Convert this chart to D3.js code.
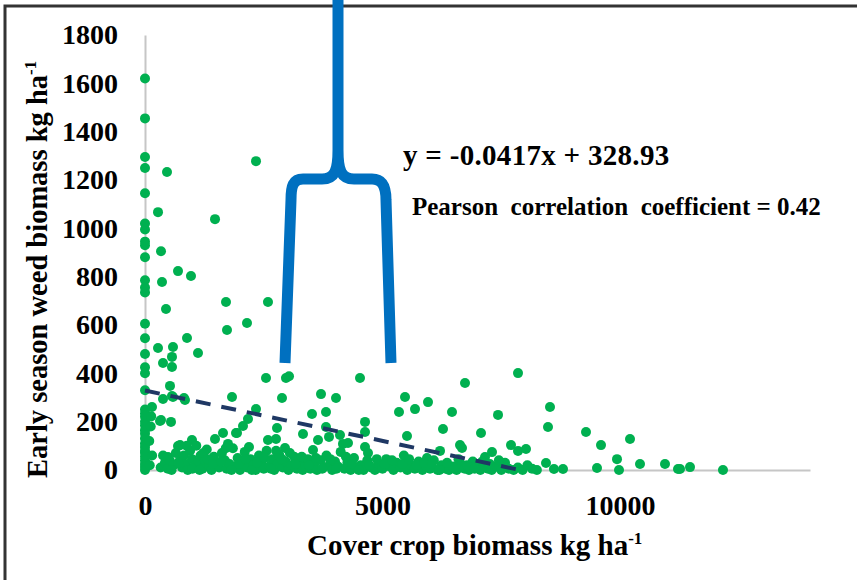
<!DOCTYPE html>
<html>
<head>
<meta charset="utf-8">
<script src="https://cdn.jsdelivr.net/npm/d3@7"></script>
<style>
  body { margin: 0; background: #fff; }
  svg text { font-family: 'Liberation Serif', 'Times New Roman', serif; font-weight: bold; fill: #000; }
</style>
</head>
<body>
<svg id="chart"></svg>
<script>
// axis ticks
const xTicks = [0, 5000, 10000];
const yTicks = [0, 200, 400, 600, 800, 1000, 1200, 1400, 1600, 1800];

// weed biomass of plots with no cover crop (x = 0)
const noCoverWeeds = [1620, 1455, 1295, 1250, 1145, 1020, 995, 945, 930, 880, 785, 755, 735,
  605, 545, 480, 425, 400, 330, 250, 235, 220, 200, 185, 165, 150, 130, 110, 95, 80, 70, 55,
  40, 25, 12, 0];

// [cover crop biomass, weed biomass] for the scattered plots
const scatterPoints = [
  [463, 1233], [274, 1067], [1474, 1038], [2337, 1278], [337, 905],
  [695, 823], [968, 803], [358, 778], [442, 666], [1705, 695], [1726, 579], [2147, 608], [2589, 695],
  [274, 505], [589, 509], [568, 468], [884, 546], [1116, 484], [379, 443], [568, 426], [526, 348],
  [379, 294], [568, 306], [842, 290], [147, 261], [130, 222], [337, 207], [547, 199], [316, 203],
  [589, 302], [821, 298], [1832, 302], [2337, 252], [2168, 211], [2063, 182], [2547, 381],
  [2968, 381], [3032, 388], [2884, 298], [2779, 174], [989, 124], [1474, 128], [1642, 153],
  [1937, 153], [1916, 153], [2189, 95], [2589, 124], [2758, 128], [2947, 91], [737, 103], [695, 99],
  [1747, 108], [484, 54], [120, 180], [90, 120], [150, 60], [100, 20],
  [4526, 381], [3705, 314], [4021, 298], [3516, 232], [3811, 240], [5474, 302], [5958, 281],
  [5347, 240], [5684, 252], [6737, 360], [7853, 401], [6463, 240], [8526, 261], [7432, 228],
  [8484, 178], [6274, 170], [5516, 141], [7074, 153], [4632, 199], [4632, 157], [3811, 178],
  [3326, 149], [3874, 137], [4105, 145], [4168, 108], [4274, 112], [3642, 124], [3537, 83],
  [4632, 95], [4695, 70], [6632, 103], [6674, 91], [6211, 79], [5937, 50], [7705, 103], [7853, 79],
  [8021, 87], [7305, 74], [8442, 29], [7158, 54],
  [9284, 157], [9600, 103], [10211, 128], [9937, 45], [9516, 8], [9979, 0], [10421, 25],
  [10947, 25], [11221, 4], [11263, 4], [11474, 12], [12168, 0], [8610, 4], [8800, 4],
];

// dense band of low weed biomass along the x axis
const lowWeedPoints = [
  [330, 10], [420, 30], [480, 5], [520, 40], [600, 20], [650, 70], [740, 40], [780, 10], [820, 60],
  [860, 25], [900, 0], [950, 80], [990, 45], [1040, 15], [1080, 100], [1120, 30], [1170, 60],
  [1210, 5], [1260, 40], [1300, 85], [1350, 20], [1400, 0], [1450, 55], [1500, 30],
  [1560, 10], [1620, 70], [1680, 40], [1720, 5], [1780, 25], [1850, 90], [1900, 15], [1950, 50],
  [2000, 0], [2050, 35], [2100, 75], [2150, 10], [2220, 45], [2280, 20], [2330, 0], [2400, 60],
  [2450, 30], [2500, 5], [2560, 80], [2620, 15], [2680, 45], [2720, 0], [2790, 25], [2830, 60],
  [2900, 10], [2960, 35], [3020, 0], [3080, 20], [3140, 55], [3200, 5], [3260, 30], [3320, 0],
  [3380, 15], [3430, 45], [3480, 5], [3560, 25], [3620, 0], [3700, 40], [3760, 10], [3820, 60],
  [3880, 20], [3940, 0], [4000, 35], [4060, 15], [4120, 75], [4200, 5], [4260, 30], [4330, 0],
  [4400, 50], [4460, 10], [4540, 20], [4600, 0], [4680, 40], [4760, 10], [4840, 0], [4920, 25],
  [5000, 5], [5080, 45], [5150, 15], [5230, 0], [5300, 30], [5380, 10], [5450, 60], [5520, 0],
  [5600, 20], [5680, 5], [5760, 35], [5840, 0], [5920, 15], [6000, 5], [6080, 40], [6160, 0],
  [6240, 20], [6330, 5], [6400, 0], [6480, 15], [6560, 0], [6650, 25], [6730, 5], [6820, 0],
  [6900, 35], [6980, 10], [7060, 0], [7140, 20], [7220, 5], [7300, 0], [7400, 15], [7500, 0],
  [7580, 30], [7660, 5], [7760, 0], [7850, 10], [7950, 0], [8050, 20], [8150, 5], [8250, 0],
  // second layer of the band, fills the gaps seen in the figure
  [380, 60], [560, 0], [700, 30], [880, 100], [1000, 5], [1150, 0], [1230, 70], [1320, 45],
  [1430, 25], [1600, 35], [1700, 90], [1820, 0], [1980, 25], [2120, 45], [2250, 0], [2360, 30],
  [2520, 50], [2650, 5], [2760, 80], [2880, 45], [3050, 70], [3170, 25], [3300, 55], [3450, 20],
  [3600, 50], [3730, 5], [3900, 45], [4030, 5], [4230, 55], [4360, 25], [4500, 0], [4720, 20],
  [4880, 45], [5040, 25], [5200, 40], [5420, 25], [5560, 45], [5720, 20], [5880, 30], [6040, 25],
  [6200, 0], [6360, 30], [6600, 45], [6780, 20], [6940, 5], [7100, 35], [7260, 25], [7450, 40],
];

// fitted trend line y = slope * x + intercept
const trendSlope = -0.0417;
const trendIntercept = 328.93;

const equationLabel = 'y = -0.0417x + 328.93';
const pearsonLabel = 'Pearson  correlation  coefficient = 0.42';

const width = 857;
const height = 580;

const svg = d3.select('#chart')
  .attr('width', width)
  .attr('height', height);

svg.append('rect')
  .attr('width', width)
  .attr('height', height)
  .attr('fill', '#fff');

// frame of the cropped figure (only top and left edges are visible)
svg.append('path')
  .attr('d', `M5,${height}V6H${width}`)
  .attr('fill', 'none')
  .attr('stroke', '#333')
  .attr('stroke-width', 3);

const xScale = d3.scaleLinear().domain([0, 14000]).range([145, 810]);
const yScale = d3.scaleLinear().domain([0, 1800]).range([470, 35]);

// axes - no tick marks, just the grey lines and big bold labels
const xAxis = d3.axisBottom(xScale)
  .tickValues(xTicks)
  .tickSize(0)
  .tickPadding(25)
  .tickFormat(d3.format('d'));

const yAxis = d3.axisLeft(yScale)
  .tickValues(yTicks)
  .tickSize(0)
  .tickPadding(27)
  .tickFormat(d3.format('d'));

const xAxisG = svg.append('g')
  .attr('transform', `translate(0,${yScale(0)})`)
  .call(xAxis);

const yAxisG = svg.append('g')
  .attr('transform', `translate(${xScale(0)},0)`)
  .call(yAxis);

[xAxisG, yAxisG].forEach((g) => {
  g.select('.domain').attr('stroke', '#c6c6c6').attr('stroke-width', 2);
  g.selectAll('text')
    .attr('fill', '#000')
    .style('font-family', "'Liberation Serif', 'Times New Roman', serif")
    .style('font-weight', 'bold')
    .style('font-size', '28px');
});

// points
const allPoints = noCoverWeeds.map((w) => [0, w]).concat(scatterPoints, lowWeedPoints);

svg.append('g')
  .selectAll('circle')
  .data(allPoints)
  .join('circle')
  .attr('cx', (d) => xScale(d[0]))
  .attr('cy', (d) => yScale(d[1]))
  .attr('r', 5)
  .attr('fill', '#00b050');

// trend line, clipped at the x axis like the spreadsheet does
const trendEnd = -trendIntercept / trendSlope;
svg.append('path')
  .datum([0, trendEnd])
  .attr('d', d3.line()
    .x((d) => xScale(d))
    .y((d) => yScale(trendSlope * d + trendIntercept)))
  .attr('fill', 'none')
  .attr('stroke', '#1f3864')
  .attr('stroke-width', 4)
  .attr('stroke-dasharray', '15,11');

// axis titles
const xTitle = svg.append('text')
  .attr('x', 307)
  .attr('y', 555)
  .style('font-size', '29px');
xTitle.append('tspan').text('Cover crop biomass kg ha');
xTitle.append('tspan').attr('dy', -11).style('font-size', '17px').text('-1');

const yTitle = svg.append('text')
  .attr('transform', 'translate(47,478) rotate(-90)')
  .style('font-size', '28.5px');
yTitle.append('tspan').text('Early season weed biomass kg ha');
yTitle.append('tspan').attr('dy', -11).style('font-size', '17px').text('-1');

// annotations
svg.append('text')
  .attr('x', 403)
  .attr('y', 165)
  .style('font-size', '29px')
  .style('letter-spacing', '0.3px')
  .text(equationLabel);

svg.append('text')
  .attr('x', 412)
  .attr('y', 215)
  .style('font-size', '25px')
  .style('white-space', 'pre')
  .text(pearsonLabel);

// blue curly brace pointing up at the top of the figure
const brace = d3.path();
brace.moveTo(338, -4);
brace.lineTo(338, 150);
brace.bezierCurveTo(338, 170, 335, 179, 322, 179);
brace.lineTo(303, 179);
brace.bezierCurveTo(293, 179, 291, 186, 291, 200);
brace.lineTo(285, 363);
brace.moveTo(338, 150);
brace.bezierCurveTo(338, 170, 341, 179, 354, 179);
brace.lineTo(372, 179);
brace.bezierCurveTo(382, 179, 386, 186, 386, 200);
brace.lineTo(391, 363);

svg.append('path')
  .attr('d', brace.toString())
  .attr('fill', 'none')
  .attr('stroke', '#0070c0')
  .attr('stroke-width', 11)
  .attr('stroke-linejoin', 'round');
</script>
</body>
</html>
